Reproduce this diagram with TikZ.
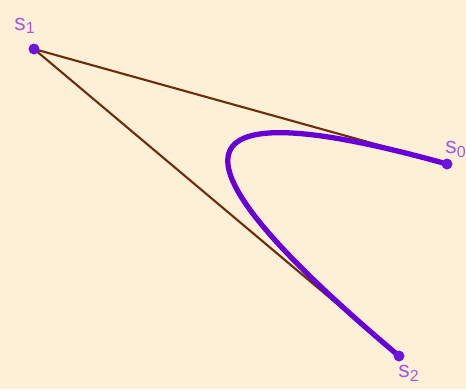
\documentclass[tikz,border=0pt]{standalone}
\usepackage{fontspec}
\setmainfont{Liberation Sans}
\usepackage{xcolor}
\usetikzlibrary{calc}
\definecolor{paper}{RGB}{253,240,214}
\definecolor{hull}{RGB}{110,45,10}
\definecolor{curve}{RGB}{104,0,214}
\definecolor{pt}{RGB}{110,20,220}
\definecolor{lbl}{RGB}{165,90,230}

\begin{document}
\begin{tikzpicture}[x=0.02cm,y=-0.02cm,
    ctrl/.style={circle,fill=pt,inner sep=0pt,minimum size=0.22cm},
    tag/.style={text=lbl,font=\fontsize{13}{15}\selectfont}]
  \fill[paper] (0,0) rectangle (466,389);
  \useasboundingbox (0,0) rectangle (466,389);
  % control points
  \coordinate (s0) at (447,164);
  \coordinate (s1) at (34,49);
  \coordinate (s2) at (399,356);
  \draw[hull,line width=1.2pt] (s0) -- (s1) -- (s2);
  % quadratic bezier as cubic
  \draw[curve,line width=3pt] (s0) .. controls ($(s0)!2/3!(s1)$) and ($(s2)!2/3!(s1)$) .. (s2);
  \node[ctrl] (p0) at (s0) {}; \node[tag] (t0) at (456,149) {s\textsubscript{0}};
  \node[ctrl] (p1) at (s1) {}; \node[tag] (t1) at (25,26)  {s\textsubscript{1}};
  \node[ctrl] (p2) at (s2) {}; \node[tag] (t2) at (409,373) {s\textsubscript{2}};
\end{tikzpicture}
\end{document}
